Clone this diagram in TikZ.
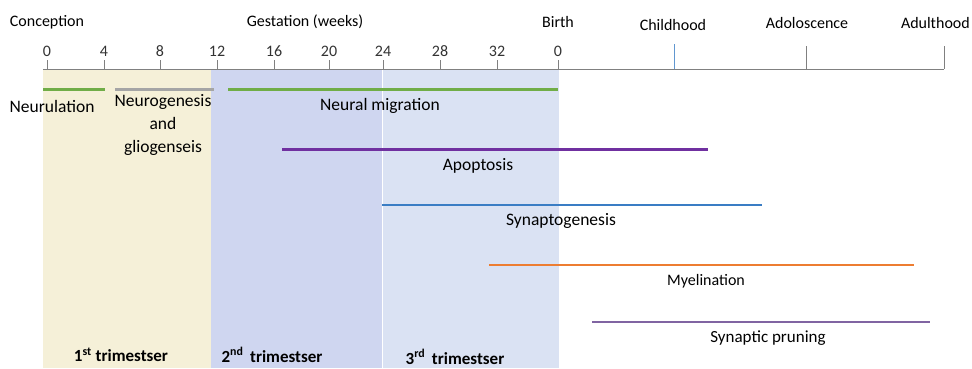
\documentclass[tikz,border=0pt]{standalone}
\usepackage{fontspec}
\setmainfont{Carlito}
\definecolor{triA}{HTML}{F5F0D8}
\definecolor{triB}{HTML}{CFD6F0}
\definecolor{triC}{HTML}{DAE2F3}
\definecolor{cgreen}{HTML}{70AD47}
\definecolor{cgray}{HTML}{A5A5A5}
\definecolor{cpurple}{HTML}{7030A0}
\definecolor{cblue}{HTML}{3A7DC4}
\definecolor{corange}{HTML}{ED7D31}
\definecolor{clilac}{HTML}{8064A2}
\definecolor{caxis}{HTML}{808080}
\begin{document}
\begin{tikzpicture}[x=1pt,y=-1pt,
  toplbl/.style={font=\fontsize{16}{18}\selectfont, text=black, inner sep=0pt},
  numlbl/.style={font=\fontsize{16}{18}\selectfont, text=black!80, inner sep=0pt},
  lbl/.style={font=\fontsize{17.5}{20}\selectfont, text=black, inner sep=0pt},
  trilbl/.style={font=\bfseries\fontsize{17}{19}\selectfont, text=black, inner sep=0pt},
  bar/.style={line width=3pt},
  thinbar/.style={line width=2pt},
  tick/.style={draw=caxis, line width=0.8pt}]
\useasboundingbox (0,0) rectangle (972,368);
% trimester panels
\fill[triA] (43,69) rectangle (211,368);
\fill[triB] (211,69) rectangle (382,368);
\fill[triC] (382,69) rectangle (559,368);
\draw[white, line width=0.8pt] (382,69) -- (382,368);
% axis
\coordinate (axL) at (43,69);
\coordinate (axR) at (944,69);
\draw[caxis, line width=1pt] (axL) -- (axR);
\foreach \x/\t [count=\i] in {47/0,104/4,160/8,217/12,274/16,329/20,383/24,440/28,497/32,558/0}{
  \draw[tick] (\x,60) -- (\x,69);
  \node[numlbl] (n\i) at (\x,51) {\t};
}
\draw[draw=cblue!80, line width=0.8pt] (674,44) -- (674,69);
\draw[tick] (806,46) -- (806,69);
\draw[tick] (944,46) -- (944,69);
% top labels
\node[toplbl] (conc) at (47,22) {Conception};
\node[toplbl] (gest) at (305,22) {Gestation (weeks)};
\node[toplbl] (birth) at (558,22) {Birth};
\node[toplbl] (child) at (673,25) {Childhood};
\node[toplbl] (adol) at (807,23) {Adoloscence};
\node[toplbl, anchor=east] (adul) at (970,23) {Adulthood};
% bars
\coordinate (nuA) at (43,89);  \coordinate (nuB) at (105,89);
\coordinate (ngA) at (115,89); \coordinate (ngB) at (214,89);
\coordinate (nmA) at (228,89); \coordinate (nmB) at (558,89);
\coordinate (apA) at (282,149); \coordinate (apB) at (708,149);
\coordinate (syA) at (382,205); \coordinate (syB) at (762,205);
\coordinate (myA) at (489,265); \coordinate (myB) at (914,265);
\coordinate (prA) at (592,322); \coordinate (prB) at (930,322);
\draw[bar, cgreen] (nuA) -- (nuB);
\draw[bar, cgray] (ngA) -- (ngB);
\draw[bar, cgreen] (nmA) -- (nmB);
\draw[bar, cpurple] (apA) -- (apB);
\draw[thinbar, cblue] (syA) -- (syB);
\draw[thinbar, corange] (myA) -- (myB);
\draw[thinbar, clilac] (prA) -- (prB);
% labels
\node[lbl] (neur) at (52,106) {Neurulation};
\node[lbl, align=center, font=\fontsize{17.5}{23}\selectfont] (neurog) at (163,125) {Neurogenesis\\and\\gliogenseis};
\node[lbl] (migr) at (380,106) {Neural migration};
\node[lbl] (apop) at (478,166) {Apoptosis};
\node[lbl] (syn) at (561,221) {Synaptogenesis};
\node[lbl, font=\fontsize{16}{18}\selectfont] (myel) at (706,281) {Myelination};
\node[lbl, font=\fontsize{17}{19}\selectfont] (prun) at (768,338) {Synaptic pruning};
% trimester labels
\node[trilbl] (t1) at (121,355) {1\textsuperscript{st} trimestser};
\node[trilbl] (t2) at (272,355) {2\textsuperscript{nd}\, trimestser};
\node[trilbl] (t3) at (455,357) {3\textsuperscript{rd}\, trimestser};
\end{tikzpicture}
\end{document}
